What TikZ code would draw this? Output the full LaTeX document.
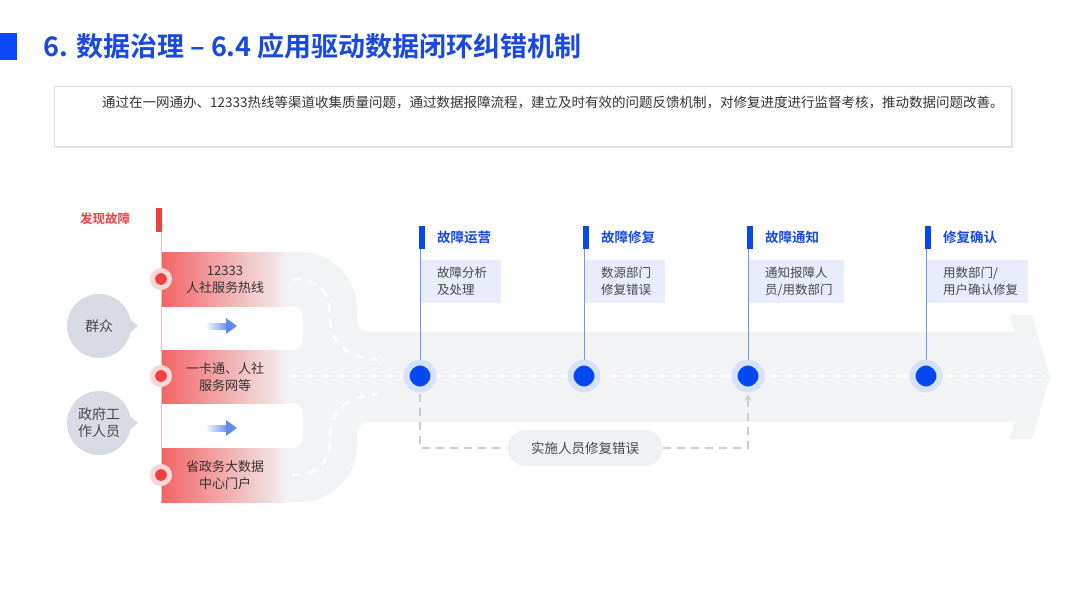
\documentclass[tikz,border=0pt]{standalone}
\usepackage{fontspec}
\setmainfont{Noto Sans CJK SC}[BoldFont={Noto Sans CJK SC Bold}]
\usetikzlibrary{arrows.meta}
\definecolor{titleblue}{RGB}{24,74,225}
\definecolor{sqblue}{RGB}{10,72,250}
\definecolor{roadc}{RGB}{242,243,245}
\definecolor{redc}{RGB}{243,100,100}
\definecolor{dotred}{RGB}{240,64,64}
\definecolor{halored}{RGB}{252,214,214}
\definecolor{nodeblue}{RGB}{5,72,242}
\definecolor{haloblue}{RGB}{214,226,252}
\definecolor{lineblue}{RGB}{110,150,240}
\definecolor{boxc}{RGB}{233,237,251}
\definecolor{txt}{RGB}{72,72,72}
\definecolor{txtdark}{RGB}{51,51,51}
\definecolor{personc}{RGB}{216,219,227}
\definecolor{dashgray}{RGB}{204,204,204}
\definecolor{pillc}{RGB}{240,241,243}
\definecolor{arrowblue}{RGB}{100,140,240}
\begin{document}
\begin{tikzpicture}[x=1pt,y=-1pt,
  every node/.style={inner sep=0},
  lanetext/.style={text=txtdark, font=\fontsize{13}{17}\selectfont, align=center},
  reddot/.style={circle, fill=dotred, draw=halored, line width=5pt, minimum size=17pt},
  bluedot/.style={circle, fill=nodeblue, draw=haloblue, line width=6pt, minimum size=27pt},
  person/.style={circle, fill=personc, minimum size=64pt, text=txt, font=\fontsize{14}{17}\selectfont, align=center},
  stagelbl/.style={anchor=west, text=titleblue, font=\bfseries\fontsize{13.5}{16}\selectfont},
  stagebox/.style={anchor=north west, fill=boxc, minimum height=43pt},
  boxtext/.style={anchor=west, text=txt, font=\fontsize{12.5}{17}\selectfont, align=left},
  flagbar/.style={anchor=north west, fill=nodeblue, minimum width=6pt, minimum height=23pt},
  roaddash/.style={white, line width=2.5pt, dash pattern=on 9pt off 7pt},
  loopdash/.style={dashgray, line width=1.8pt, dash pattern=on 8pt off 6pt},
]
\useasboundingbox (0,0) rectangle (1080,608);
\fill[white] (0,0) rectangle (1080,608);

% title
\fill[sqblue] (0,33) rectangle (17,60);
\node[anchor=west, text=titleblue, font=\bfseries\fontsize{27}{31}\selectfont] (title) at (43,46) {6. 数据治理 – 6.4 应用驱动数据闭环纠错机制};

% description
\fill[black!9] (56,88) rectangle (1013,148);
\node[draw=black!14, fill=white, anchor=north west, minimum width=957pt, minimum height=60pt] (descbox) at (54,86) {};
\node[anchor=west, text=txtdark, font=\fontsize{13.5}{16}\selectfont] (desctext) at (102,103) {通过在一网通办、12333热线等渠道收集质量问题，通过数据报障流程，建立及时有效的问题反馈机制，对修复进度进行监督考核，推动数据问题改善。};

% road
\fill[roadc] (161,252) -- (300,252) arc[start angle=90,end angle=0,radius=57pt]
  -- (357,320) arc[start angle=180,end angle=270,radius=12pt]
  -- (1030,332) -- (1030,422) -- (369,422) arc[start angle=90,end angle=180,radius=12pt]
  -- (357,445) arc[start angle=0,end angle=-90,radius=57pt] -- (161,502) -- cycle;
\fill[roadc] (1010,315) -- (1032,315) -- (1050,377) -- (1032,439) -- (1010,439) -- (1026,377) -- cycle;
\fill[white, rounded corners=10pt] (150,306) rectangle (303,350);
\fill[white, rounded corners=10pt] (150,403) rectangle (303,448);

% red lane gradients
\shade[left color=redc, right color=roadc] (161,252) rectangle (288,306);
\shade[left color=redc, right color=roadc] (161,350) rectangle (288,403);
\shade[left color=redc, right color=roadc] (161,448) rectangle (288,502);

% road dashes
\draw[roaddash] (292,279) .. controls (322,279) and (330,295) .. (330,318) .. controls (330,345) and (350,358) .. (378,360);
\draw[roaddash] (292,475) .. controls (322,475) and (330,459) .. (330,436) .. controls (330,409) and (350,396) .. (378,394);
\draw[roaddash] (290,376) -- (1045,376);

% discovery marker
\node[text=dotred, font=\bfseries\fontsize{12.5}{15}\selectfont] (found) at (105,219) {发现故障};
\fill[dotred] (156,208) rectangle (162,232);
\draw[redc!45, line width=1pt] (161,232) -- (161,502);
\node[reddot] (r1) at (161,279) {};
\node[reddot] (r2) at (161,376) {};
\node[reddot] (r3) at (161,475) {};

% lane texts
\node[lanetext] (ln1) at (225,280) {12333\\人社服务热线};
\node[lanetext] (ln2) at (225,377) {一卡通、人社\\服务网等};
\node[lanetext] (ln3) at (225,475) {省政务大数据\\中心门户};

% blue arrows
\shade[left color=white, right color=arrowblue] (205,323) rectangle (228,329);
\fill[arrowblue] (226,318) -- (237,326) -- (226,334) -- cycle;
\shade[left color=white, right color=arrowblue] (205,425) rectangle (228,431);
\fill[arrowblue] (226,420) -- (237,428) -- (226,436) -- cycle;

% persons
\fill[personc] (126,316) -- (138,326) -- (126,336) -- cycle;
\node[person] (crowd) at (99,326) {群众};
\fill[personc] (126,413) -- (138,423) -- (126,433) -- cycle;
\node[person] (gov) at (99,423) {政府工\\作人员};

% stages
\node[flagbar] (f1) at (419,226) {};
\node[flagbar] (f2) at (583,226) {};
\node[flagbar] (f3) at (747,226) {};
\node[flagbar] (f4) at (925,226) {};
\draw[lineblue, line width=0.8pt] ([xshift=1pt]f1.south west) -- (420,376);
\draw[lineblue, line width=0.8pt] ([xshift=1pt]f2.south west) -- (584,376);
\draw[lineblue, line width=0.8pt] ([xshift=1pt]f3.south west) -- (748,376);
\draw[lineblue, line width=0.8pt] ([xshift=1pt]f4.south west) -- (926,376);
\node[bluedot] (c1) at (420,376) {};
\node[bluedot] (c2) at (584,376) {};
\node[bluedot] (c3) at (748,376) {};
\node[bluedot] (c4) at (926,376) {};

\node[stagelbl] (l1) at (437,237) {故障运营};
\node[stagelbl] (l2) at (601,237) {故障修复};
\node[stagelbl] (l3) at (765,237) {故障通知};
\node[stagelbl] (l4) at (943,237) {修复确认};

\node[stagebox, minimum width=80pt] (b1) at (421,260) {};
\node[stagebox, minimum width=80pt] (b2) at (585,260) {};
\node[stagebox, minimum width=95pt] (b3) at (749,260) {};
\node[stagebox, minimum width=101pt] (b4) at (927,260) {};
\node[boxtext] (t1) at (437,281.5) {故障分析\\及处理};
\node[boxtext] (t2) at (601,281.5) {数源部门\\修复错误};
\node[boxtext] (t3) at (765,281.5) {通知报障人\\员/用数部门};
\node[boxtext] (t4) at (943,281.5) {用数部门/\\用户确认修复};

% repair loop
\node[fill=pillc, rounded corners=18pt, minimum width=155pt, minimum height=36pt, text=txt, font=\fontsize{13.5}{16}\selectfont] (pill) at (585,448) {实施人员修复错误};
\draw[loopdash] ([yshift=-1pt]c1.south) |- (pill.west);
\draw[loopdash, -{Stealth[length=6pt,width=7pt]}] (pill.east) -| ([yshift=-2pt]c3.south);
\end{tikzpicture}
\end{document}
